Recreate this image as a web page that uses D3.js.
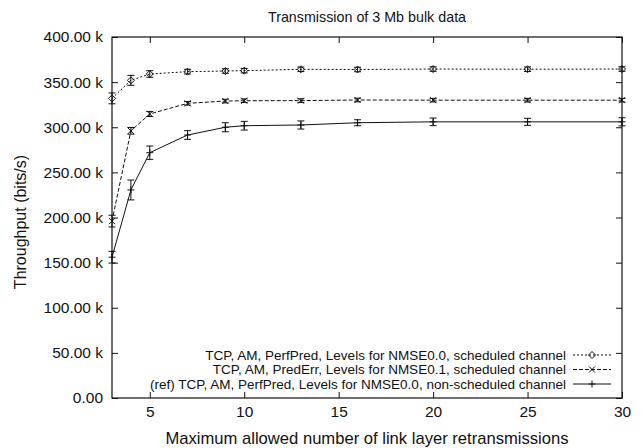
<!DOCTYPE html>
<html>
<head>
<meta charset="utf-8">
<script src="https://cdn.jsdelivr.net/npm/d3@7"></script>
<style>
  body { margin: 0; background: #fff; }
  svg { display: block; font-family: "Liberation Sans", Arial, sans-serif; }
</style>
</head>
<body>
<div id="chart"></div>
<script>
// x = max allowed link layer retransmissions, y = throughput in kbit/s
var xVals = [3, 4, 5, 7, 9, 10, 13, 16, 20, 25, 30];
var perfPredSched = [332, 352, 359, 361.6, 362.3, 362.7, 364.2, 364, 364.5, 364.3, 364.5];
var perfPredSchedErr = [6, 5.5, 3.7, 2.6, 2.5, 2.5, 2.5, 2.5, 2.5, 2.5, 2.5];
var predErrSched = [196, 296, 314.7, 326.5, 329, 329.4, 329.5, 330.2, 330, 330, 330];
var predErrSchedErr = [6.5, 3.7, 2.8, 2, 2, 2, 2, 2, 2, 2, 2];
var perfPredNonSched = [156, 230.5, 271.8, 291.4, 300, 301.7, 302.5, 305, 306, 306, 306];
var perfPredNonSchedErr = [6.5, 11, 7.4, 4.8, 5, 4.8, 4.5, 3.3, 4.2, 3.9, 4.5];

var xTicks = [5, 10, 15, 20, 25, 30];
var yTicks = [0, 50, 100, 150, 200, 250, 300, 350, 400];

var legendLabels = [
  "TCP, AM, PerfPred, Levels for NMSE0.0, scheduled channel",
  "TCP, AM, PredErr, Levels for NMSE0.1, scheduled channel",
  "(ref) TCP, AM, PerfPred, Levels for NMSE0.0, non-scheduled channel"
];

var WIDTH = 642, HEIGHT = 448;
var MARGINS = {top: 37, bottom: 50, left: 112, right: 20};

var xScale = d3.scaleLinear().domain([3, 30]).range([MARGINS.left, WIDTH - MARGINS.right]);
var yScale = d3.scaleLinear().domain([0, 400]).range([HEIGHT - MARGINS.bottom, MARGINS.top]);

var series = [
  {name: legendLabels[0], y: perfPredSched, err: perfPredSchedErr, dash: "2,2", marker: "diamond"},
  {name: legendLabels[1], y: predErrSched, err: predErrSchedErr, dash: "4,2", marker: "cross"},
  {name: legendLabels[2], y: perfPredNonSched, err: perfPredNonSchedErr, dash: null, marker: "plus"}
];

var svg = d3.select("#chart").append("svg")
  .attr("width", WIDTH)
  .attr("height", HEIGHT);

var ink = "#111";

// axes (ticks inward, mirrored on top/right)
var x0 = MARGINS.left, x1 = WIDTH - MARGINS.right;
var y0 = HEIGHT - MARGINS.bottom, y1 = MARGINS.top;

svg.append("g")
  .attr("transform", "translate(0," + y0 + ")")
  .call(d3.axisBottom(xScale).tickValues(xTicks).tickSizeInner(-6).tickSizeOuter(0).tickPadding(8))
  .call(function(g) {
    g.select(".domain").remove();
    g.selectAll("line").attr("stroke", ink);
    g.selectAll("text").attr("fill", ink).style("font-size", "15.5px");
  });

svg.append("g")
  .attr("transform", "translate(0," + y1 + ")")
  .call(d3.axisTop(xScale).tickValues(xTicks).tickSizeInner(-6).tickSizeOuter(0).tickFormat(""))
  .call(function(g) {
    g.select(".domain").remove();
    g.selectAll("line").attr("stroke", ink);
  });

svg.append("g")
  .attr("transform", "translate(" + x0 + ",0)")
  .call(d3.axisLeft(yScale).tickValues(yTicks).tickSizeInner(-6).tickSizeOuter(0).tickPadding(9)
    .tickFormat(function(d) { return d == 0 ? "0.00" : d3.format(".2f")(d) + " k"; }))
  .call(function(g) {
    g.select(".domain").remove();
    g.selectAll("line").attr("stroke", ink);
    g.selectAll("text").attr("fill", ink).style("font-size", "15.5px");
  });

svg.append("g")
  .attr("transform", "translate(" + x1 + ",0)")
  .call(d3.axisRight(yScale).tickValues(yTicks).tickSizeInner(-6).tickSizeOuter(0).tickFormat(""))
  .call(function(g) {
    g.select(".domain").remove();
    g.selectAll("line").attr("stroke", ink);
  });

// frame
svg.append("rect")
  .attr("x", x0).attr("y", y1)
  .attr("width", x1 - x0).attr("height", y0 - y1)
  .attr("fill", "none").attr("stroke", ink).attr("stroke-width", 1.2);

// labels
svg.append("text")
  .attr("x", (x0 + x1) / 2).attr("y", 22)
  .attr("text-anchor", "middle").style("font-size", "14.3px").attr("fill", ink)
  .text("Transmission of 3 Mb bulk data");

svg.append("text")
  .attr("x", (x0 + x1) / 2).attr("y", 444)
  .attr("text-anchor", "middle").style("font-size", "16.6px").attr("fill", ink)
  .text("Maximum allowed number of link layer retransmissions");

svg.append("text")
  .attr("transform", "translate(26,222) rotate(-90)")
  .attr("text-anchor", "middle").style("font-size", "16px").attr("fill", ink)
  .text("Throughput (bits/s)");

function drawMarker(g, type, cx, cy) {
  if (type == "diamond") {
    g.append("path")
      .attr("d", "M" + cx + "," + (cy - 3.5) + "L" + (cx + 3.5) + "," + cy + "L" + cx + "," + (cy + 3.5) + "L" + (cx - 3.5) + "," + cy + "Z")
      .attr("fill", "none").attr("stroke", ink).attr("stroke-width", 1);
  } else if (type == "cross") {
    g.append("path")
      .attr("d", "M" + (cx - 3) + "," + (cy - 3) + "L" + (cx + 3) + "," + (cy + 3) + "M" + (cx + 3) + "," + (cy - 3) + "L" + (cx - 3) + "," + (cy + 3))
      .attr("stroke", ink).attr("stroke-width", 1);
  } else {
    g.append("path")
      .attr("d", "M" + (cx - 3.5) + "," + cy + "L" + (cx + 3.5) + "," + cy + "M" + cx + "," + (cy - 3.5) + "L" + cx + "," + (cy + 3.5))
      .attr("stroke", ink).attr("stroke-width", 1);
  }
}

var lineGen = d3.line()
  .x(function(d) { return xScale(d.x); })
  .y(function(d) { return yScale(d.y); });

series.forEach(function(s) {
  var pts = xVals.map(function(x, i) { return {x: x, y: s.y[i], e: s.err[i]}; });
  var g = svg.append("g");

  g.append("path")
    .datum(pts)
    .attr("d", lineGen)
    .attr("fill", "none")
    .attr("stroke", ink)
    .attr("stroke-width", 1)
    .attr("stroke-dasharray", s.dash);

  pts.forEach(function(p) {
    var cx = xScale(p.x), hi = yScale(p.y + p.e), lo = yScale(p.y - p.e);
    g.append("path")
      .attr("d", "M" + cx + "," + hi + "L" + cx + "," + lo +
        "M" + (cx - 3.5) + "," + hi + "L" + (cx + 3.5) + "," + hi +
        "M" + (cx - 3.5) + "," + lo + "L" + (cx + 3.5) + "," + lo)
      .attr("stroke", ink).attr("stroke-width", 1).attr("fill", "none");
    drawMarker(g, s.marker, cx, yScale(p.y));
  });
});

// legend
var legend = svg.append("g");
series.forEach(function(s, i) {
  var ly = 355 + i * 14.5;
  legend.append("text")
    .attr("x", 566).attr("y", ly).attr("dy", "0.35em")
    .attr("text-anchor", "end").style("font-size", "13.5px").attr("fill", ink)
    .text(s.name);
  legend.append("line")
    .attr("x1", 573).attr("x2", 611).attr("y1", ly).attr("y2", ly)
    .attr("stroke", ink).attr("stroke-width", 1).attr("stroke-dasharray", s.dash);
  drawMarker(legend, s.marker, 592, ly);
});
</script>
</body>
</html>
